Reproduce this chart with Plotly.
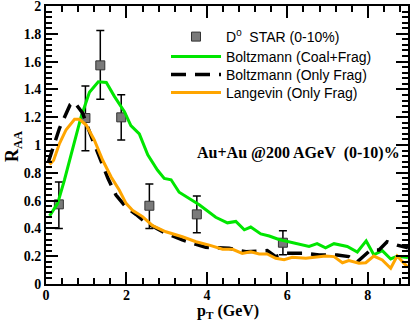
import plotly.graph_objects as go

# STAR D0 R_AA, Au+Au 200 GeV, 0-10%
d0_pt = [0.32, 0.98, 1.35, 1.87, 2.57, 3.75, 5.89]
d0_raa = [0.573, 1.194, 1.573, 1.199, 0.563, 0.501, 0.297]
d0_err_up = [0.16, 0.23, 0.25, 0.163, 0.156, 0.132, 0.086]
d0_err_dn = [0.173, 0.235, 0.244, 0.163, 0.163, 0.132, 0.087]

# Boltzmann (Coal+Frag)
coal_pt = [0.09, 0.29, 0.46, 0.67, 0.87, 1.08, 1.3, 1.5, 1.7, 1.95, 2.11, 2.32,
           2.53, 2.77, 2.94, 3.11, 3.31, 3.81, 4.22, 4.51, 4.72, 4.93, 5.09, 5.34,
           5.55, 5.79, 6.12, 6.54, 6.74, 6.95, 7.16, 7.49, 7.74, 7.96, 8.15, 8.36,
           8.57, 8.73, 9.0]
coal_raa = [0.49, 0.58, 0.75, 0.99, 1.20, 1.38, 1.455, 1.45, 1.35, 1.24, 1.14, 1.08,
            0.93, 0.82, 0.76, 0.75, 0.66, 0.57, 0.48, 0.44, 0.45, 0.39, 0.41, 0.36,
            0.345, 0.32, 0.30, 0.27, 0.29, 0.26, 0.29, 0.27, 0.23, 0.31, 0.21, 0.24,
            0.18, 0.20, 0.19]

# Boltzmann (Only Frag)
frag_pt = [0.05, 0.21, 0.335, 0.46, 0.6, 0.7, 0.91, 1.1, 1.33, 1.54, 1.74, 2.0,
           2.24, 2.49, 2.98, 3.39, 3.97, 4.55, 4.97, 5.50, 5.71, 5.96, 6.41, 6.79,
           7.24, 7.53, 7.74, 8.07, 8.28, 8.48, 8.73, 9.0]
frag_raa = [0.87, 1.0, 1.12, 1.2, 1.29, 1.31, 1.23, 1.08, 0.905, 0.76, 0.64, 0.55,
            0.50, 0.44, 0.365, 0.317, 0.264, 0.257, 0.232, 0.24, 0.197, 0.221, 0.221, 0.209,
            0.209, 0.197, 0.16, 0.245, 0.245, 0.304, 0.28, 0.26]

# Langevin (Only Frag)
lang_pt = [0.09, 0.19, 0.335, 0.5, 0.71, 0.83, 1.0, 1.2, 1.41, 1.62, 1.82, 1.99,
           2.15, 2.40, 2.65, 2.98, 3.39, 3.73, 4.06, 4.39, 4.64, 4.88, 5.09, 5.30,
           5.50, 5.71, 5.92, 6.12, 6.46, 6.70, 6.95, 7.16, 7.37, 7.53, 7.78, 7.95,
           8.15, 8.36, 8.57, 8.73, 8.98]
lang_raa = [0.86, 0.89, 1.01, 1.11, 1.185, 1.185, 1.144, 1.036, 0.89, 0.77, 0.676, 0.58,
            0.53, 0.485, 0.42, 0.376, 0.34, 0.304, 0.28, 0.25, 0.25, 0.22, 0.232, 0.216,
            0.216, 0.185, 0.175, 0.192, 0.185, 0.192, 0.201, 0.197, 0.153, 0.168, 0.149, 0.153,
            0.201, 0.173, 0.113, 0.201, 0.125]

serif = "Liberation Serif"
sans = "Liberation Sans"

FIG_W, FIG_H = 414, 323
# plot area in pixels
L, R, T, B = 46, 408, 6, 284
W, H = R - L, B - T


def px(x):
    return (x - L) / W


def py(y):
    return (B - y) / H


fig = go.Figure()

fig.add_trace(go.Scatter(
    x=d0_pt, y=d0_raa, mode="markers",
    name="D<sup>0</sup>&nbsp;&nbsp;STAR (0-10%)",
    marker=dict(symbol="square", size=9, color="#7a7a7a", line=dict(color="#333333", width=1)),
    error_y=dict(type="data", array=d0_err_up, arrayminus=d0_err_dn,
                 color="black", thickness=1.5, width=4),
    legend="legend",
))
fig.add_trace(go.Scatter(
    x=coal_pt, y=coal_raa, mode="lines", name="Boltzmann (Coal+Frag)",
    line=dict(color="#00e600", width=3), legend="legend2",
))
fig.add_trace(go.Scatter(
    x=frag_pt, y=frag_raa, mode="lines", name="Boltzmann (Only Frag)",
    line=dict(color="black", width=3.5, dash="15px,9px"), legend="legend3",
))
fig.add_trace(go.Scatter(
    x=lang_pt, y=lang_raa, mode="lines", name="Langevin (Only Frag)",
    line=dict(color="#ffa500", width=3), legend="legend4",
))

fig.add_annotation(
    x=px(195), y=py(153), xref="paper", yref="paper", xanchor="left", yanchor="middle",
    showarrow=False, text="Au+Au @200 AGeV&nbsp;&nbsp;(0-10)%",
    font=dict(family=serif, size=16, color="black", weight="bold"),
)
fig.add_annotation(
    x=px(228), y=py(311), xref="paper", yref="paper", xanchor="center", yanchor="middle",
    showarrow=False, text="p<sub>T</sub> (GeV)",
    font=dict(family=serif, size=16, color="black", weight="bold"),
)
fig.add_annotation(
    x=px(13), y=py(147), xref="paper", yref="paper", xanchor="center", yanchor="middle",
    showarrow=False, textangle=-90, text="R<sub>AA</sub>",
    font=dict(family=serif, size=18, color="black", weight="bold"),
)

axis_common = dict(
    showgrid=False, zeroline=False, showline=True, linecolor="black", linewidth=2,
    mirror="ticks", ticks="inside", ticklen=12, tickwidth=1.5, tickcolor="black",
    automargin=False, ticklabeloverflow="allow",
    tickfont=dict(family=serif, size=14, color="black", weight="bold"),
)

fig.update_xaxes(
    range=[0, 9], dtick=2, tick0=0, ticklabelstandoff=-3,
    minor=dict(dtick=0.4, ticks="inside", ticklen=6, tickwidth=1.5, tickcolor="black"),
    **axis_common,
)
fig.update_yaxes(
    range=[0, 2], dtick=0.2, tick0=0,
    minor=dict(dtick=0.04, ticks="inside", ticklen=6, tickwidth=1.5, tickcolor="black"),
    **axis_common,
)

legend_style = dict(
    xanchor="left", yanchor="middle", bgcolor="rgba(0,0,0,0)", borderwidth=0,
    font=dict(family=sans, size=14, color="black"), itemwidth=50,
)
rows = [37, 57, 75, 93]
leg_x = px(166)
fig.update_layout(
    width=FIG_W, height=FIG_H,
    margin=dict(l=L, r=FIG_W - R, t=T, b=FIG_H - B),
    paper_bgcolor="white", plot_bgcolor="white",
    showlegend=True,
    legend=dict(x=leg_x, y=py(rows[0]), **legend_style),
    legend2=dict(x=leg_x, y=py(rows[1]), **legend_style),
    legend3=dict(x=leg_x, y=py(rows[2]), **legend_style),
    legend4=dict(x=leg_x, y=py(rows[3]), **legend_style),
)

# drop the default 8px body margin so the figure sits at the page corner
fig.write_html(
    "out.html",
    config={"displayModeBar": False},
    post_script="document.body.style.margin = '0';",
)
